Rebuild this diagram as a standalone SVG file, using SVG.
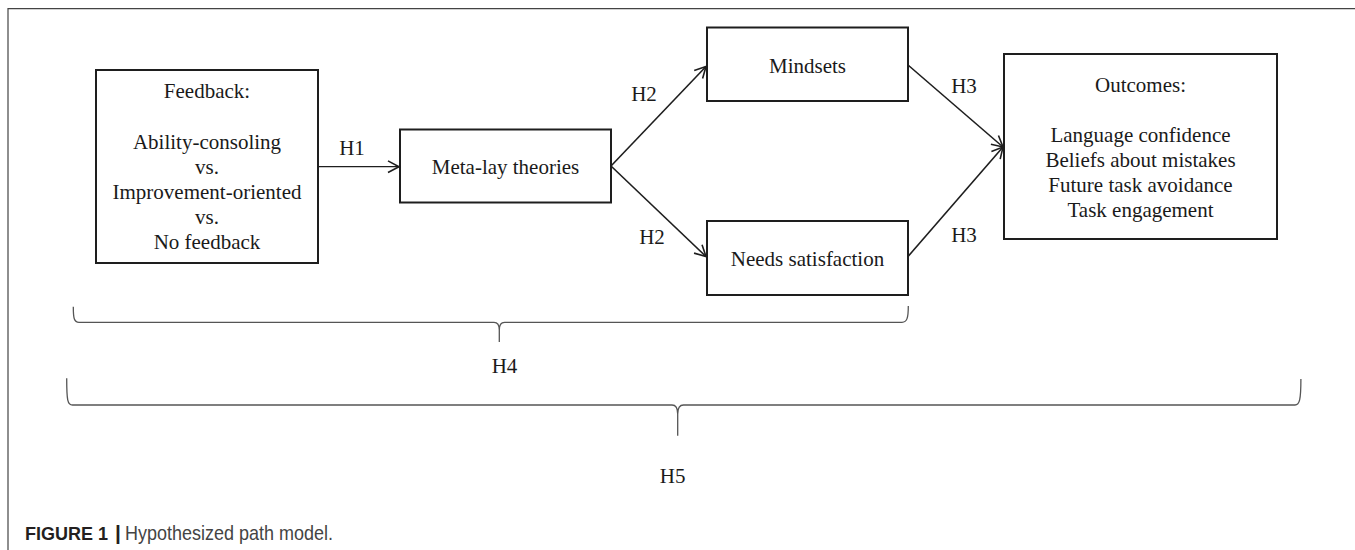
<svg xmlns="http://www.w3.org/2000/svg" width="1355" height="550" viewBox="0 0 1355 550">
<defs>
<style>
.box{fill:#fff;stroke:#1e1e1e;stroke-width:2}
.t{font-family:"Liberation Serif","Times New Roman",serif;font-size:21px;fill:#1a1a1a;text-anchor:middle}
.edge{fill:none;stroke:#1e1e1e;stroke-width:1.6}
.brace{fill:none;stroke:#555;stroke-width:1.3}
.frame{fill:none;stroke:#444;stroke-width:1.2}
.cap{font-family:"Liberation Sans",Arial,sans-serif;font-size:21px}
</style>
<marker id="arr" markerUnits="userSpaceOnUse" markerWidth="16" markerHeight="16" viewBox="-13 -8 16 16" refX="0" refY="0" orient="auto">
<path d="M-11,-5.8 L0,0 L-11,5.8" fill="none" stroke="#1e1e1e" stroke-width="1.6"/>
</marker>
</defs>
<rect width="1355" height="550" fill="#fff"/>
<path class="frame" d="M8,550 V8.7 H1355"/>

<g id="feedback">
<rect class="box" x="96" y="70" width="222" height="193"/>
<text class="t" x="207" y="98">Feedback:</text>
<text class="t" x="207" y="149">Ability-consoling</text>
<text class="t" x="207" y="174">vs.</text>
<text class="t" x="207" y="199">Improvement-oriented</text>
<text class="t" x="207" y="224">vs.</text>
<text class="t" x="207" y="249">No feedback</text>
</g>
<g id="metalay">
<rect class="box" x="400" y="129.5" width="211" height="73"/>
<text class="t" x="505.5" y="173.5">Meta-lay theories</text>
</g>
<g id="mindsets">
<rect class="box" x="707" y="27.5" width="201" height="73.5"/>
<text class="t" x="807.5" y="73">Mindsets</text>
</g>
<g id="needs">
<rect class="box" x="707" y="221" width="201" height="74"/>
<text class="t" x="807.5" y="266">Needs satisfaction</text>
</g>
<g id="outcomes">
<rect class="box" x="1004" y="54" width="273" height="185"/>
<text class="t" x="1140.5" y="92">Outcomes:</text>
<text class="t" x="1140.5" y="142">Language confidence</text>
<text class="t" x="1140.5" y="167">Beliefs about mistakes</text>
<text class="t" x="1140.5" y="192">Future task avoidance</text>
<text class="t" x="1140.5" y="217">Task engagement</text>
</g>

<g id="connectors">
<line class="edge" x1="318" y1="166.7" x2="399" y2="166.7" marker-end="url(#arr)" style="stroke-width:1.2"/>
<line class="edge" x1="611" y1="166" x2="706" y2="66.5" marker-end="url(#arr)"/>
<line class="edge" x1="611" y1="166" x2="706" y2="256.5" marker-end="url(#arr)"/>
<line class="edge" x1="908" y1="65" x2="1003" y2="147" marker-end="url(#arr)"/>
<line class="edge" x1="908" y1="256.5" x2="1003" y2="147" marker-end="url(#arr)"/>
<text class="t" x="352" y="155">H1</text>
<text class="t" x="644" y="101">H2</text>
<text class="t" x="652" y="243.5">H2</text>
<text class="t" x="964" y="92.7">H3</text>
<text class="t" x="964" y="242">H3</text>
</g>

<g id="h4">
<path class="brace" d="M73.3,306.7 C73.3,318 74,322.3 79,322.3 L494,322.3 C498,322.3 499.3,325 499.3,330 L499.3,342 M499.3,330 C499.3,325 500.5,322.3 504.5,322.3 L902,322.3 C907,322.3 908.3,318 908.3,306"/>
<text class="t" x="504.5" y="373.3">H4</text>
</g>
<g id="h5">
<path class="brace" d="M66.7,378.3 C66.7,400 67.5,405 72.5,405 L672,405 C676.5,405 677.7,408 677.7,414 L677.7,435.7 M677.7,414 C677.7,408 679,405 683.5,405 L1295,405 C1299.5,405 1300.9,400 1300.9,379"/>
<text class="t" x="672.7" y="482.7">H5</text>
</g>

<g id="caption">
<text class="cap" y="540"><tspan x="25" font-weight="bold" fill="#231f20" font-size="18">FIGURE 1</tspan><tspan x="115" font-weight="bold" fill="#231f20">|</tspan><tspan x="125" fill="#444" textLength="208" lengthAdjust="spacingAndGlyphs">Hypothesized path model.</tspan></text>
</g>
</svg>
